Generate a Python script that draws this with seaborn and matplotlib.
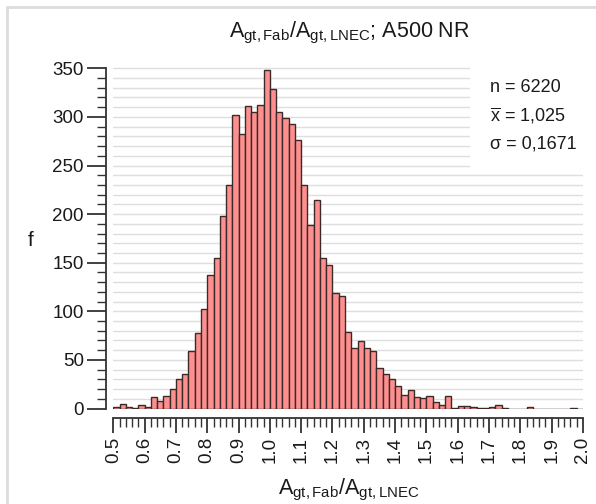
import numpy as np
import pandas as pd
import matplotlib
matplotlib.use("Agg")
import matplotlib.pyplot as plt
from matplotlib.patches import Rectangle
from matplotlib.ticker import MultipleLocator
import seaborn as sns

# ---- data ----
bin_start = 0.5
bin_end = 2.0
counts = [2, 5, 2, 1, 4, 2, 12, 8, 13, 20,
          30, 35, 59, 78, 102, 137, 155, 198, 230, 302,
          282, 311, 305, 312, 348, 329, 305, 299, 293, 276,
          230, 189, 215, 155, 148, 119, 116, 79, 62, 69,
          62, 59, 42, 35, 30, 23, 14, 19, 12, 11,
          13, 7, 4, 13, 1, 3, 3, 2, 1, 1,
          2, 4, 1, 0, 0, 0, 2, 0, 0, 0,
          0, 0, 0, 1, 0]
x_ticks = [0.5, 0.6, 0.7, 0.8, 0.9, 1.0, 1.1, 1.2, 1.3, 1.4, 1.5, 1.6, 1.7, 1.8, 1.9, 2.0]
x_ticklabels = ["0.5", "0.6", "0.7", "0.8", "0.9", "1.0", "1.1", "1.2", "1.3", "1.4",
                "1.5", "1.6", "1.7", "1.8", "1.9", "2.0"]
y_ticks = [0, 50, 100, 150, 200, 250, 300, 350]
stats_lines = ["n = 6220", r"$\overline{\mathrm{x}}$ = 1,025", "σ = 0,1671"]
title_text = r"$\mathrm{A_{gt,Fab}}$/$\mathrm{A_{gt,LNEC}}$; A500 NR"
xlabel_text = r"$\mathrm{A_{gt,Fab}}$/$\mathrm{A_{gt,LNEC}}$"
ylabel_text = "f"

bin_width = (bin_end - bin_start) / len(counts)
edges = np.linspace(bin_start, bin_end, len(counts) + 1)
centers = (edges[:-1] + edges[1:]) / 2
df = pd.DataFrame({"x": centers, "w": np.array(counts, dtype=float)})

# ---- style ----
sns.set_style("white")
plt.rcParams["font.family"] = ["Liberation Sans", "DejaVu Sans"]
plt.rcParams["mathtext.fontset"] = "custom"
plt.rcParams["mathtext.rm"] = "Liberation Sans"
plt.rcParams["mathtext.it"] = "Liberation Sans:italic"
plt.rcParams["mathtext.bf"] = "Liberation Sans:bold"

W, H = 596, 504
fig = plt.figure(figsize=(W / 100, H / 100), dpi=100)

def fx(px):
    return px / W

def fy(py):
    return 1 - py / H

# light frame of the image (top and left edges)
fig.add_artist(plt.Line2D([fx(7), fx(7)], [0, fy(7)], transform=fig.transFigure,
                          color="#dcdcdc", linewidth=2))
fig.add_artist(plt.Line2D([fx(7), 1], [fy(7), fy(7)], transform=fig.transFigure,
                          color="#dcdcdc", linewidth=2))

left_px, right_px = 113.3, 583.0
base_px = 408.5
ppu = 0.972
ytop = 356
ax = fig.add_axes([fx(left_px), fy(base_px), (right_px - left_px) / W, ytop * ppu / H])

sns.histplot(data=df, x="x", weights="w", binwidth=bin_width, binrange=(bin_start, bin_end),
             ax=ax, color="#ff8f8f", edgecolor="#3a2a2a", linewidth=1.0, alpha=1.0)

ax.set_xlim(bin_start, bin_end)
ax.set_ylim(0, ytop)
ax.set_axisbelow(True)

# grid every 10
ax.yaxis.set_minor_locator(MultipleLocator(10))
ax.set_yticks(y_ticks)
ax.grid(False)
ax.grid(True, axis="y", which="both", color="#dedede", linewidth=1.0, zorder=0)

# white box behind stats (cuts the gridlines)
ax.add_patch(Rectangle((1.64, 247), 0.6, 130, facecolor="white", edgecolor="none",
                       zorder=0.9, clip_on=False))

# spines R-style (offsets in points)
for s in ["top", "right"]:
    ax.spines[s].set_visible(False)
ax.spines["left"].set_position(("outward", 5.3))
ax.spines["left"].set_bounds(0, 350)
ax.spines["bottom"].set_position(("outward", 6.6))
ax.spines["bottom"].set_bounds(bin_start, bin_end)
for s in ["left", "bottom"]:
    ax.spines[s].set_color("#333333")
    ax.spines[s].set_linewidth(1.3)

ax.set_xticks(x_ticks)
ax.set_xticklabels(x_ticklabels, rotation=90)
ax.xaxis.set_minor_locator(MultipleLocator(0.02))
ax.set_yticklabels([str(v) for v in y_ticks])
ax.tick_params(axis="both", which="both", color="#333333", direction="out")
ax.tick_params(axis="both", which="major", width=1.3, labelsize=13.5, labelcolor="#1a1a1a")
ax.tick_params(axis="both", which="minor", width=1.0)
ax.tick_params(axis="y", which="major", length=14, pad=2)
ax.tick_params(axis="y", which="minor", length=6.5)
ax.tick_params(axis="x", which="major", length=11, pad=3)
ax.tick_params(axis="x", which="minor", length=6.5)
ax.tick_params(left=True, bottom=True)
ax.tick_params(which="minor", left=True, bottom=True)
ax.set_xlabel("")
ax.set_ylabel("")

# stats text
for i, line in enumerate(stats_lines):
    fig.text(fx(490), fy(87 + i * 28.7), line, ha="left", va="center", fontsize=13,
             color="#1a1a1a")

fig.text(fx(349), fy(33), title_text, ha="center", va="center", fontsize=15.5, color="#1a1a1a")
fig.text(fx(349), fy(490), xlabel_text, ha="center", va="center", fontsize=15.5, color="#1a1a1a")
fig.text(fx(31), fy(240), ylabel_text, ha="center", va="center", fontsize=15, color="#1a1a1a")

fig.savefig("out.png", dpi=100)
